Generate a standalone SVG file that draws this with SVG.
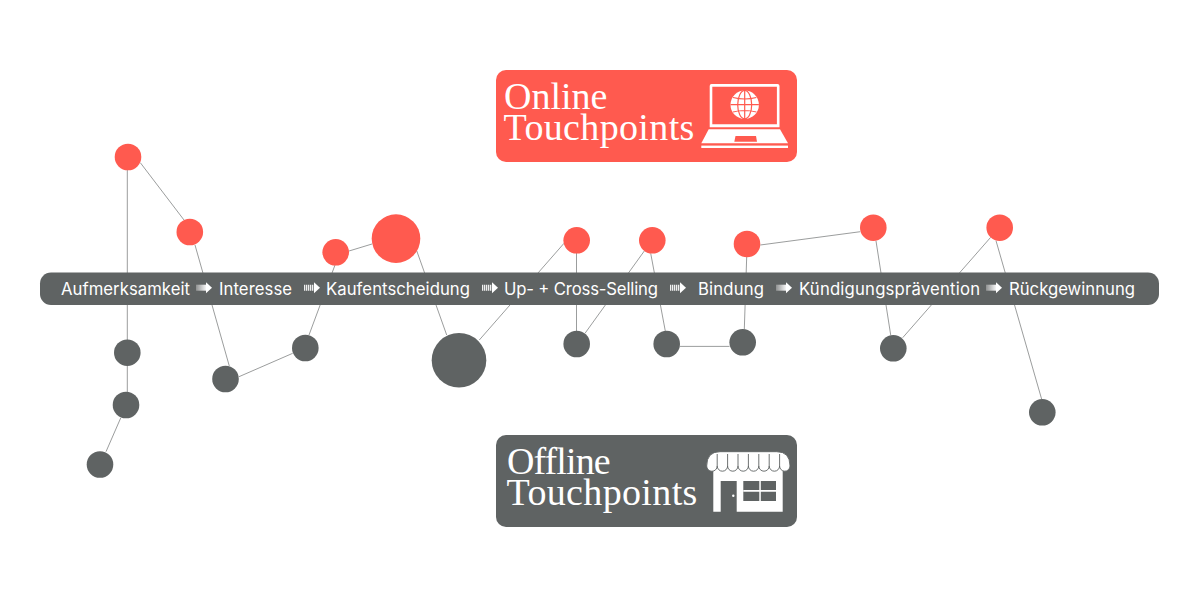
<svg xmlns="http://www.w3.org/2000/svg" width="1200" height="600" viewBox="0 0 1200 600">
<style>
.r{fill:#ff5a4f}.g{fill:#5f6363}
.w{fill:#fff}
.c{fill:none;stroke:#909292;stroke-width:.9}
.s{font-family:"Inter","Liberation Sans",sans-serif;font-size:16.7px;fill:#fff}
.t{font-family:"Liberation Serif",serif;font-size:38px;fill:#fff}
</style>
<defs>
<linearGradient id="fade"><stop offset="0" stop-color="#8f9191"/><stop offset="1" stop-color="#fff"/></linearGradient>
<path id="arrowhead" d="M10-3V-5.5L16 0 10 5.5V3Z" fill="#fff"/>
<g id="arrg"><rect x="0" y="-3" width="11" height="6" fill="url(#fade)"/><use href="#arrowhead"/></g>
<g id="arrs"><path d="M.7-3V3M2.7-3V3M4.7-3V3M6.7-3V3M8.7-3V3" stroke="#fff" stroke-width="1.2" fill="none"/><use href="#arrowhead"/></g>
</defs>
<g id="connectors" class="c">
<path d="M127.3 170V392M120.7 418 106 451.7"/>
<path d="M140.3 162.7 184 220M195 245 229.3 366M239 376.7 292.7 353.3M309 335 335 265M349 251 372 244M416.7 250.7 446.7 335M479.3 340 564 243.3M576.5 253V331M585 333.3 644.3 251M650.7 253.3 665.3 331M680 346.4H729.5M746.7 257 744.3 329.3M760.3 245 860.3 231.7M876 241 890.7 335M902.7 337.7 990.7 237.3M996 240.7 1041.7 399.3"/>
</g>
<g id="timeline">
<rect class="g" x="40" y="272.5" width="1119" height="32.5" rx="11"/>
<text class="s" x="61" y="295" textLength="129">Aufmerksamkeit</text>
<use href="#arrg" x="196" y="287.7"/>
<text class="s" x="219" y="295" textLength="73">Interesse</text>
<use href="#arrs" x="304" y="287.7"/>
<text class="s" x="326" y="295" textLength="144">Kaufentscheidung</text>
<use href="#arrs" x="482" y="287.7"/>
<text class="s" x="504" y="295" textLength="154">Up- + Cross-Selling</text>
<use href="#arrs" x="670" y="287.7"/>
<text class="s" x="698" y="295" textLength="66">Bindung</text>
<use href="#arrg" x="776" y="287.7"/>
<text class="s" x="799" y="295" textLength="181">Kündigungsprävention</text>
<use href="#arrg" x="986" y="287.7"/>
<text class="s" x="1009" y="295" textLength="126">Rückgewinnung</text>
</g>
<g id="online-nodes" class="r">
<circle id="on1" cx="128" cy="157" r="13.3"/>
<circle id="on2" cx="189.8" cy="232" r="13.3"/>
<circle id="on3" cx="335.7" cy="252.3" r="13.3"/>
<circle id="on4" cx="396" cy="238.6" r="24.3"/>
<circle id="on5" cx="576.7" cy="240.3" r="13.3"/>
<circle id="on6" cx="652.3" cy="240.3" r="13.3"/>
<circle id="on7" cx="747" cy="244" r="13.3"/>
<circle id="on8" cx="873.3" cy="227.7" r="13.3"/>
<circle id="on9" cx="999.7" cy="227.7" r="13.3"/>
</g>
<g id="offline-nodes" class="g">
<circle id="off1" cx="127.3" cy="352.7" r="13.3"/>
<circle id="off2" cx="126" cy="405" r="13.3"/>
<circle id="off3" cx="100" cy="464.5" r="13.3"/>
<circle id="off4" cx="225.5" cy="379" r="13.3"/>
<circle id="off5" cx="305.3" cy="348" r="13.3"/>
<circle id="off6" cx="459" cy="360.3" r="27.3"/>
<circle id="off7" cx="576.7" cy="344" r="13.3"/>
<circle id="off8" cx="666.7" cy="344" r="13.3"/>
<circle id="off9" cx="742.7" cy="342.3" r="13.3"/>
<circle id="off10" cx="893.3" cy="348.3" r="13.3"/>
<circle id="off11" cx="1042.3" cy="412.3" r="13.3"/>
</g>
<g id="online">
<rect class="r" x="496" y="70" width="301" height="92" rx="10"/>
<text class="t"><tspan x="504" y="108.5">Online</tspan><tspan x="503.5" y="140" letter-spacing=".35">Touchpoints</tspan></text>
<path class="w" fill-rule="evenodd" d="M711.5 84H777.5Q779.5 84 779.5 86V127.3H709.7V86Q709.7 84 711.5 84ZM712.3 86.7V124.3H776.9V86.7Z"/>
<path class="w" d="M708.7 129.3H780L788 143.3H701.3Z"/>
<path class="r" d="M735.5 136H756L757 141.7H734.3Z"/>
<rect class="w" x="701.3" y="145.6" width="86.7" height="2.4"/>
<circle class="w" cx="744.7" cy="104.7" r="14.2"/>
<g fill="none" stroke="#ff5a4f" stroke-width="1.2"><ellipse cx="744.7" cy="104.7" rx="7" ry="14.2"/><path d="M744.7 90.5V118.9M730.5 104.7H758.9M733 97.5Q744.7 100.5 756.4 97.5M733 112Q744.7 109 756.4 112"/></g>
</g>
<g id="offline">
<rect class="g" x="496" y="435" width="301" height="92" rx="10"/>
<text class="t"><tspan x="507" y="473.5" letter-spacing="-.9">Offline</tspan><tspan x="506.5" y="505" letter-spacing=".35">Touchpoints</tspan></text>
<path class="w" d="M713.3 466H782.7V511.7H736.7V481H720.7V511.7H713.3Z"/>
<path class="w" stroke="#5f6363" stroke-width=".9" d="M706.7 466Q706.7 451.7 720 451.7H776.7Q790 451.7 790 466A5.2 5.2 0 0 1 779.6 466 5.2 5.2 0 0 1 769.2 466 5.2 5.2 0 0 1 758.8 466 5.2 5.2 0 0 1 748.4 466 5.2 5.2 0 0 1 738 466 5.2 5.2 0 0 1 727.6 466 5.2 5.2 0 0 1 717.2 466 5.2 5.2 0 0 1 706.7 466Z"/>
<path fill="none" stroke="#5f6363" stroke-width=".9" d="M717.2 454V466M727.6 454V466M738 454V466M748.4 454V466M758.8 454V466M769.2 454V466M779.6 454V466"/>
<rect class="g" x="743.3" y="481" width="32.7" height="20"/>
<path class="w" d="M743.3 490H776V491.7H743.3ZM759.3 481H760.8V501H759.3Z"/>
<circle class="w" cx="733.3" cy="495.7" r="1.2"/>
</g>
</svg>
